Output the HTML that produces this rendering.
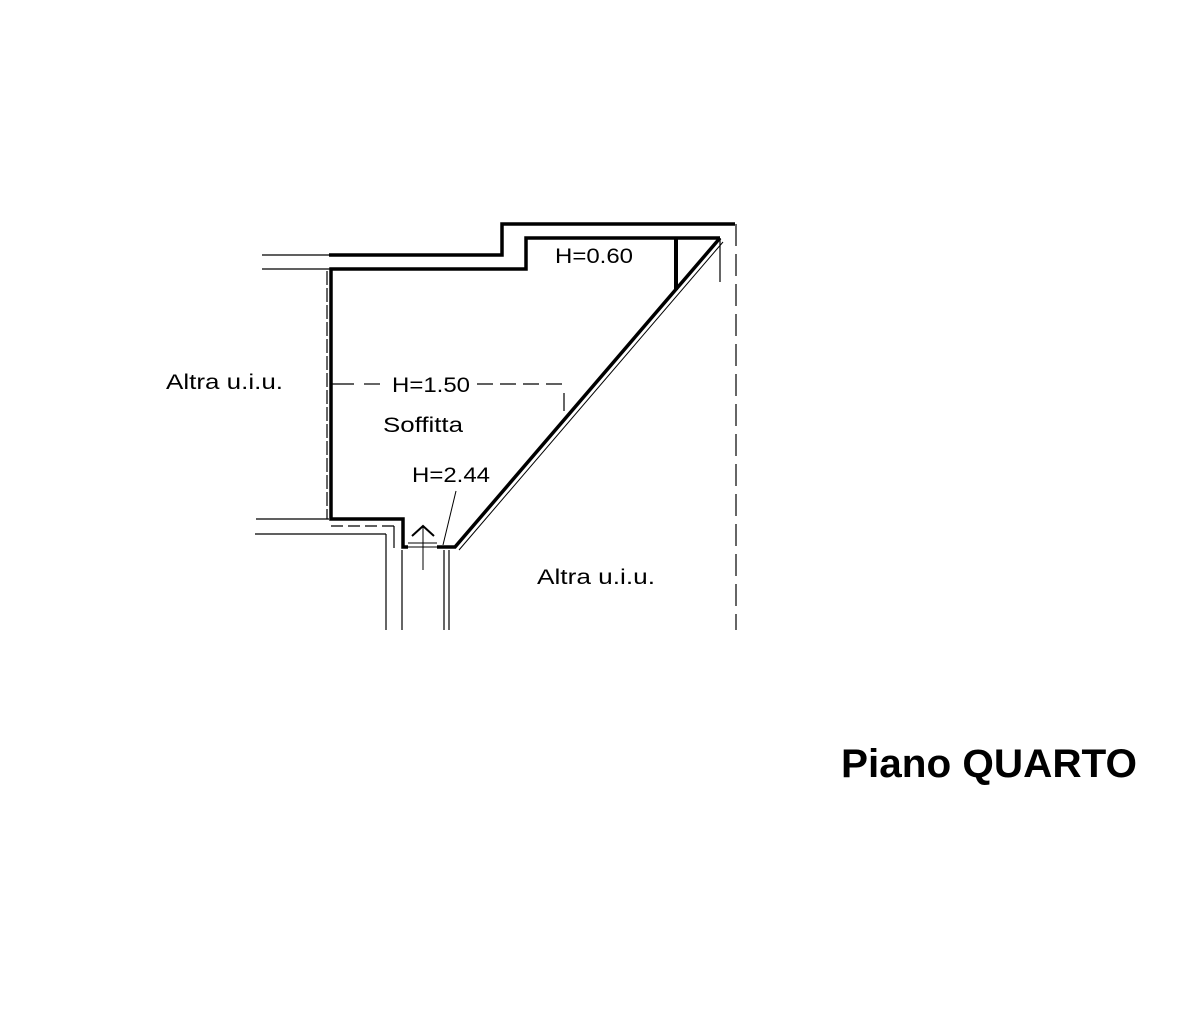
<!DOCTYPE html>
<html><head><meta charset="utf-8"><style>html,body{margin:0;padding:0;background:#fff}</style></head>
<body>
<svg width="1200" height="1007" viewBox="0 0 1200 1007" xmlns="http://www.w3.org/2000/svg" font-family="Liberation Sans, DejaVu Sans, sans-serif">
<rect width="1200" height="1007" fill="#fff"/>
<g fill="none" stroke="#000" stroke-linejoin="miter">
<polyline points="329,255 502,255 502,224 735,224" stroke-width="3.5"/>
<line x1="262" y1="255" x2="329" y2="255" stroke-width="1.2"/>
<polyline points="720,238 526,238 526,269 331,269 331,519 403,519 403,547 408,547" stroke-width="3.5"/>
<line x1="262" y1="269" x2="331" y2="269" stroke-width="1.2"/>
<line x1="327" y1="271" x2="327" y2="519" stroke-width="1.2" stroke-dasharray="14,3"/>
<polyline points="437,547 455,547 720,238" stroke-width="3.5"/>
<line x1="459" y1="550" x2="723" y2="242" stroke-width="1"/>
<line x1="676" y1="238" x2="676" y2="290" stroke-width="4"/>
<line x1="720" y1="238" x2="720" y2="282" stroke-width="1.2"/>
<line x1="736" y1="224" x2="736" y2="630" stroke-width="1.2" stroke-dasharray="22,8"/>
<line x1="408" y1="547" x2="437" y2="547" stroke-width="1"/>
<line x1="408" y1="543" x2="437" y2="543" stroke-width="1"/>
<line x1="423" y1="570" x2="423" y2="527" stroke-width="1"/>
<polyline points="412,536 423,526 434,536" stroke-width="2"/>
<line x1="256" y1="519" x2="329" y2="519" stroke-width="1.2"/>
<line x1="255" y1="534" x2="386" y2="534" stroke-width="1.2"/>
<line x1="386" y1="534" x2="386" y2="630" stroke-width="1.2"/>
<line x1="331" y1="526" x2="395" y2="526" stroke-width="1.2" stroke-dasharray="12,5"/>
<line x1="394" y1="526" x2="394" y2="548" stroke-width="1.2"/>
<line x1="402" y1="550" x2="402" y2="630" stroke-width="1.2"/>
<line x1="444" y1="550" x2="444" y2="630" stroke-width="1.2"/>
<line x1="449" y1="550" x2="449" y2="630" stroke-width="1.2"/>
<line x1="331" y1="384" x2="354" y2="384" stroke-width="1.2"/>
<line x1="364" y1="384" x2="380" y2="384" stroke-width="1.2"/>
<line x1="477" y1="384" x2="564" y2="384" stroke-width="1.2" stroke-dasharray="16,7"/>
<line x1="564" y1="393" x2="564" y2="411" stroke-width="1.2"/>
<line x1="456" y1="491" x2="443" y2="545" stroke-width="1"/>
</g>
<g fill="#000" font-size="21" lengthAdjust="spacingAndGlyphs">
<text x="555" y="263" textLength="78" lengthAdjust="spacingAndGlyphs">H=0.60</text>
<text x="392" y="392" textLength="78" lengthAdjust="spacingAndGlyphs">H=1.50</text>
<text x="383" y="432" textLength="80" lengthAdjust="spacingAndGlyphs">Soffitta</text>
<text x="412" y="482" textLength="78" lengthAdjust="spacingAndGlyphs">H=2.44</text>
<text x="166" y="389" textLength="117" lengthAdjust="spacingAndGlyphs">Altra u.i.u.</text>
<text x="537" y="584" textLength="118" lengthAdjust="spacingAndGlyphs">Altra u.i.u.</text>
<text x="841" y="777" font-size="40" font-weight="bold" textLength="296" lengthAdjust="spacingAndGlyphs">Piano QUARTO</text>
</g>
</svg>
</body></html>
